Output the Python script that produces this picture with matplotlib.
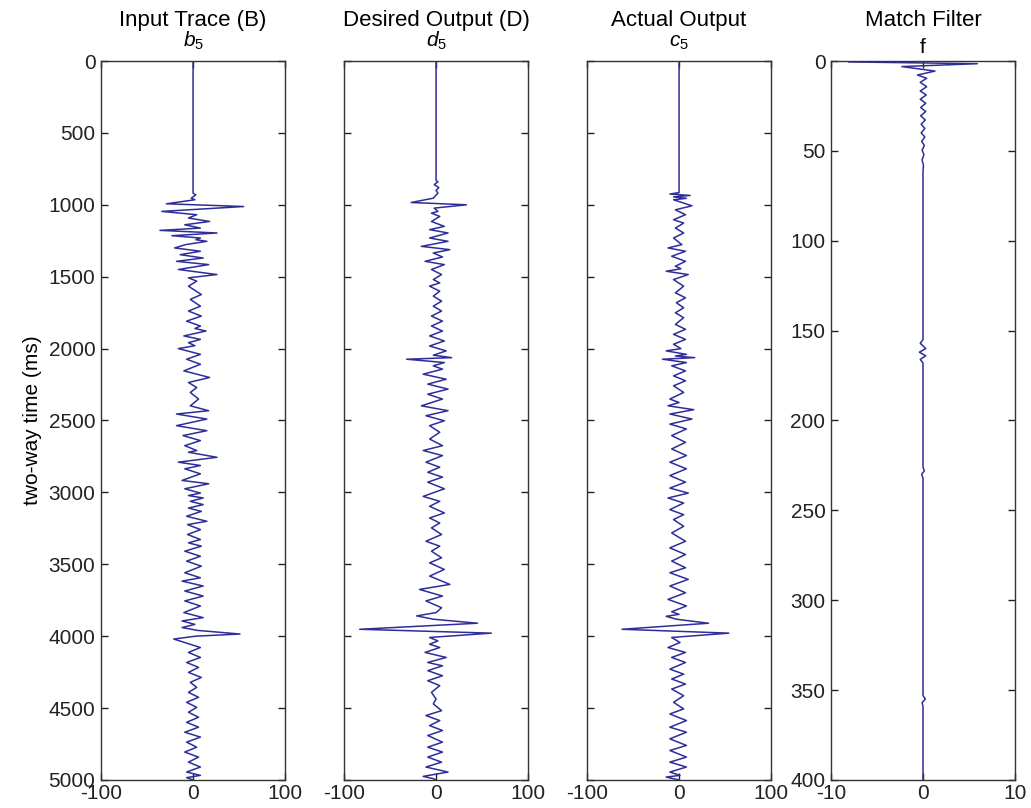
import numpy as np
import matplotlib
matplotlib.use('Agg')
import matplotlib.pyplot as plt

plt.rcParams['font.family'] = ['Liberation Sans', 'DejaVu Sans']
plt.rcParams['mathtext.fontset'] = 'custom'
plt.rcParams['mathtext.rm'] = 'Liberation Sans'
plt.rcParams['mathtext.it'] = 'Liberation Sans:italic'
plt.rcParams['axes.unicode_minus'] = False

# input trace b5 (time in ms, amplitude)
b5_time = [0, 920, 931, 954, 965, 993, 1012, 1046, 1069, 1092, 1116, 1139, 1162, 1178, 1196,
           1215, 1231, 1243, 1254, 1277, 1300, 1323, 1347, 1370, 1393, 1416, 1450, 1485, 1508,
           1531, 1566, 1624, 1658, 1705, 1739, 1774, 1809, 1843, 1860, 1878, 1912, 1936, 1959,
           1980, 2000, 2040, 2074, 2109, 2155, 2201, 2236, 2271, 2305, 2351, 2398, 2432, 2455,
           2490, 2536, 2571, 2605, 2640, 2675, 2709, 2721, 2756, 2790, 2813, 2836, 2871, 2917,
           2940, 2975, 3005, 3022, 3039, 3062, 3085, 3109, 3132, 3166, 3201, 3224, 3259, 3293,
           3328, 3351, 3374, 3409, 3444, 3478, 3513, 3559, 3594, 3617, 3651, 3686, 3721, 3755,
           3790, 3836, 3871, 3894, 3918, 3940, 3960, 3985, 4000, 4020, 4079, 4113, 4148, 4183,
           4217, 4252, 4287, 4321, 4356, 4391, 4425, 4460, 4495, 4529, 4564, 4599, 4633, 4668,
           4702, 4737, 4772, 4806, 4841, 4876, 4910, 4945, 4968, 4984, 5000]
b5_amp = [0, 0, 3, -2, 2, -29, 55, -34, 4, -5, 18, -9, 8, -36, 26,
          -23, 8, 3, 15, -8, -20, 8, -14, 11, -18, 17, -16, 26, -5,
          4, -5, 9, -3, 8, -5, 9, -7, 8, 2, 14, -10, 8, -5,
          2, -16, 8, -7, 8, -10, 18, -5, 4, -3, 6, -3, 17, -18,
          15, -18, 15, -11, 8, -9, 4, -5, 26, -16, 8, -9, 8, -12,
          17, -9, 8, -5, 11, -3, 11, -5, 9, -7, 15, -6, 8, -6,
          8, -5, 9, -9, 8, -7, 9, -9, 8, -12, 11, -9, 11, -9,
          8, -10, 11, -12, 2, -12, 5, 51, 3, -21, 8, -5, 8, -7,
          6, -5, 9, -3, 4, -5, 6, -7, 4, -5, 6, -7, 6, -9,
          8, -7, 4, -9, 6, -5, 8, -7, 8, -7, 0]

# desired output d5
d5_time = [0, 830, 840, 860, 880, 900, 919, 954, 984, 1000, 1023, 1046, 1058, 1081, 1116,
           1150, 1173, 1196, 1231, 1254, 1289, 1312, 1335, 1363, 1393, 1416, 1450, 1485, 1520,
           1543, 1566, 1601, 1635, 1670, 1705, 1739, 1774, 1809, 1843, 1878, 1912, 1947, 1982,
           2016, 2046, 2063, 2074, 2097, 2120, 2143, 2178, 2213, 2247, 2282, 2317, 2351, 2398,
           2432, 2467, 2502, 2536, 2582, 2629, 2675, 2709, 2744, 2790, 2825, 2860, 2894, 2929,
           2975, 3028, 3062, 3097, 3143, 3178, 3213, 3247, 3293, 3340, 3374, 3409, 3455, 3490,
           3536, 3582, 3640, 3675, 3721, 3755, 3802, 3836, 3859, 3882, 3910, 3952, 3979, 4009,
           4033, 4056, 4079, 4113, 4148, 4183, 4206, 4240, 4275, 4310, 4344, 4391, 4437, 4471,
           4518, 4552, 4587, 4622, 4656, 4691, 4737, 4772, 4806, 4841, 4876, 4910, 4945, 4975,
           4991, 5000]
d5_amp = [0, 0, 2, -2, 3, 0, 2, -3, -27, 33, -2, 2, -5, 4, -5,
          9, -7, 13, -7, 13, -16, 15, -3, 7, -12, 9, -5, 6, -3,
          4, -7, 4, -3, 6, -3, 6, -5, 7, -5, 7, -7, 9, -7,
          11, -3, 17, -32, 9, -3, 7, -14, 11, -9, 13, -9, 7, -16,
          13, -11, 9, -7, 4, -7, 7, -14, 7, -11, 4, -9, 7, -9,
          9, -14, 4, -7, 9, -7, 4, -5, 6, -11, 4, -5, 6, -7,
          9, -7, 15, -18, 7, -11, 6, 0, -21, -3, 45, -83, 60, -7,
          2, -7, 4, -12, 11, -9, 7, -9, 7, -9, 4, -5, 0, -3,
          6, -11, 4, -7, 7, -9, 7, -9, 7, -9, 6, -11, 13, -14,
          -3, 0]

# actual output c5
c5_time = [0, 915, 925, 935, 945, 955, 965, 1007, 1035, 1069, 1104, 1127, 1162, 1196, 1231,
           1277, 1300, 1323, 1358, 1393, 1427, 1445, 1462, 1485, 1520, 1566, 1612, 1647, 1681,
           1716, 1751, 1785, 1832, 1866, 1901, 1936, 1970, 2000, 2016, 2040, 2052, 2063, 2074,
           2097, 2120, 2155, 2190, 2224, 2259, 2305, 2351, 2375, 2398, 2425, 2455, 2490, 2525,
           2559, 2605, 2652, 2698, 2744, 2790, 2836, 2883, 2929, 2970, 3005, 3039, 3074, 3120,
           3155, 3189, 3236, 3282, 3340, 3386, 3432, 3478, 3524, 3559, 3605, 3651, 3698, 3744,
           3790, 3830, 3848, 3862, 3882, 3910, 3952, 3979, 4009, 4044, 4079, 4113, 4148, 4183,
           4229, 4264, 4298, 4333, 4368, 4414, 4460, 4506, 4541, 4587, 4633, 4668, 4714, 4760,
           4795, 4841, 4876, 4910, 4945, 4968, 4980, 5000]
c5_amp = [0, 0, -10, 12, -6, 8, -6, 14, -4, 7, -6, 5, -4, 5, -6,
          3, -12, 7, -8, 7, -4, 2, -14, 10, -6, 5, -4, 7, -3,
          5, -4, 5, -4, 7, -6, 7, -6, 2, -14, 8, -4, 17, -18,
          8, -8, 7, -6, 7, -6, 5, -10, 0, -12, 16, -10, 14, -10,
          8, -8, 7, -8, 8, -10, 8, -10, 7, -10, 10, -12, 5, -10,
          5, -6, 5, -8, 7, -10, 7, -8, 7, -10, 10, -10, 7, -12,
          8, -8, 0, -14, -3, 32, -62, 54, -8, 1, -12, 7, -8, 7,
          -10, 5, -8, 7, -8, 5, -6, 5, -10, 8, -10, 8, -10, 8,
          -10, 8, -10, 8, -10, 1, -14, 0]

# match filter f (lag, amplitude)
f_lag = [0, 0.5, 1.5, 3.1, 5.6, 7.8, 9.6, 11.9, 14.3, 16.7, 18.9, 21.3, 23.5, 25.9, 28.1,
         30.5, 32.8, 35.2, 37.5, 40, 42.3, 44.7, 47, 49.5, 52, 55, 58, 62, 155,
         157, 160, 162, 164, 166, 168, 226, 228, 230, 232, 353, 355, 357, 359, 400]
f_amp = [0, -8.1, 5.9, -2.3, 1.3, -0.6, 0.4, -0.3, 0.4, -0.3, 0.35, -0.3, 0.3, -0.25, 0.3,
         -0.25, 0.25, -0.2, 0.2, -0.2, 0.2, -0.15, 0.15, -0.1, 0.1, -0.1, 0.05, 0, 0,
         -0.3, 0.3, -0.4, 0.3, -0.3, 0, 0, 0.15, -0.15, 0, 0, 0.25, -0.1, 0, 0]

titles = ['Input Trace (B)', 'Desired Output (D)', 'Actual Output', 'Match Filter']
subtitles = ['$b_5$', '$d_5$', '$c_5$', 'f']

trace_color = '#2e2e98'
lefts = [0.098, 0.3337, 0.5694, 0.806]

fig = plt.figure(figsize=(10.31, 8.08), dpi=100)
axs = [fig.add_axes([l, 0.0347, 0.1785, 0.8898]) for l in lefts]

panels = [(b5_amp, b5_time), (d5_amp, d5_time), (c5_amp, c5_time), (f_amp, f_lag)]
for i, (ax, (amp, t)) in enumerate(zip(axs, panels)):
    ax.plot(amp, t, color=trace_color, lw=1.1)
    if i < 3:
        ax.set_xlim(-100, 100)
        ax.set_ylim(5000, 0)
        ax.set_xticks([-100, 0, 100])
        ax.set_yticks(np.arange(0, 5001, 500))
    else:
        ax.set_xlim(-10, 10)
        ax.set_ylim(400, 0)
        ax.set_xticks([-10, 0, 10])
        ax.set_yticks(np.arange(0, 401, 50))
    if i in (1, 2):
        ax.set_yticklabels([])
    ax.tick_params(direction='in', top=True, right=True, length=5, width=1,
                   labelsize=15, pad=4, colors='#222222')
    ax.tick_params(axis='x', pad=3)
    for s in ax.spines.values():
        s.set_color('#333333')
        s.set_linewidth(1.0)

    # two-line heading: name on top, trace symbol just above the box
    ax.annotate(titles[i], xy=(0.5, 1), xycoords='axes fraction', xytext=(0, 25.5),
                textcoords='offset points', ha='center', va='baseline', fontsize=16)
    sub_off = 5.5 if i == 3 else 10.5
    ax.annotate(subtitles[i], xy=(0.5, 1), xycoords='axes fraction', xytext=(0, sub_off),
                textcoords='offset points', ha='center', va='baseline', fontsize=15)

axs[0].set_ylabel('two-way time (ms)', fontsize=15)
axs[0].yaxis.set_label_coords(-0.32, 0.5)

plt.savefig('out.png', dpi=100)
